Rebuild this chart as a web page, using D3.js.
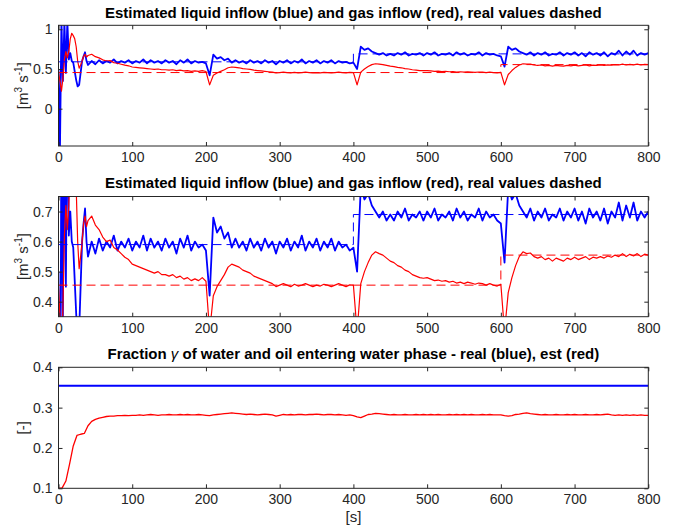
<!DOCTYPE html>
<html>
<head>
<meta charset="utf-8">
<script src="https://cdn.jsdelivr.net/npm/d3@7"></script>
<style>
  body { margin: 0; background: #fff; }
  text { font-family: "Liberation Sans", Arial, Helvetica, sans-serif; }
</style>
</head>
<body>
<div id="chart"></div>
<script>
// sample times of the estimates: dense at start-up, then every 5 s
var tEarly = d3.range(0, 41, 2);      // 21 samples
var tLate = d3.range(45, 801, 5);      // 152 samples
var tGamma = d3.range(0, 801, 5);      // 161 samples

var xTicks = [0, 100, 200, 300, 400, 500, 600, 700, 800];

// estimated liquid inflow (blue)
var liquidEarly = [0.50, -0.50, 1.10, 0.35, 1.10, 0.45, 1.10, 0.62, 0.70, 0.60, 0.58,
                   0.47, 0.36, 0.28, 0.30, 0.45, 0.60, 0.66, 0.71, 0.60, 0.55];
var liquidLate = [
  0.60, 0.56, 0.61, 0.57, 0.60, 0.58, 0.62, 0.57, 0.60, 0.58,
  0.61, 0.57, 0.60, 0.58, 0.62, 0.57, 0.61, 0.58, 0.60, 0.57,
  0.61, 0.58, 0.60, 0.56, 0.61, 0.58, 0.62, 0.57, 0.60, 0.58,
  0.59, 0.57, 0.42, 0.68, 0.63, 0.65, 0.61, 0.63, 0.58, 0.61,
  0.58, 0.60, 0.57, 0.61, 0.58, 0.60, 0.57, 0.61, 0.58, 0.60,
  0.56, 0.60, 0.58, 0.61, 0.57, 0.60, 0.58, 0.62, 0.57, 0.60,
  0.58, 0.61, 0.57, 0.60, 0.58, 0.61, 0.57, 0.60, 0.58, 0.59,
  0.57, 0.58, 0.50, 0.78, 0.74, 0.76, 0.72, 0.70, 0.68, 0.70,
  0.67, 0.69, 0.67, 0.70, 0.68, 0.71, 0.67, 0.69, 0.68, 0.70,
  0.67, 0.70, 0.68, 0.71, 0.67, 0.69, 0.68, 0.70, 0.67, 0.71,
  0.68, 0.70, 0.67, 0.69, 0.68, 0.71, 0.67, 0.70, 0.68, 0.69,
  0.67, 0.66, 0.53, 0.78, 0.74, 0.76, 0.72, 0.70, 0.68, 0.71,
  0.67, 0.70, 0.68, 0.71, 0.67, 0.69, 0.68, 0.71, 0.67, 0.70,
  0.68, 0.71, 0.67, 0.70, 0.66, 0.71, 0.68, 0.70, 0.67, 0.71,
  0.66, 0.70, 0.68, 0.73, 0.67, 0.72, 0.68, 0.73, 0.67, 0.70,
  0.68, 0.70
];

// estimated gas inflow (red)
var gasEarly = [0.45, 0.35, 0.22, 0.38, 0.62, 0.72, 0.64, 0.72, 0.88, 0.95, 0.92,
                0.88, 0.78, 0.60, 0.51, 0.55, 0.60, 0.66, 0.685, 0.65, 0.67];
var gasLate = [
  0.685, 0.655, 0.64, 0.615, 0.60, 0.605, 0.58, 0.572, 0.56, 0.548,
  0.54, 0.525, 0.52, 0.515, 0.51, 0.505, 0.50, 0.495, 0.50, 0.49,
  0.49, 0.485, 0.49, 0.48, 0.485, 0.475, 0.48, 0.47, 0.476, 0.47,
  0.48, 0.468, 0.30, 0.42, 0.45, 0.47, 0.49, 0.515, 0.525, 0.52,
  0.515, 0.505, 0.50, 0.495, 0.485, 0.48, 0.475, 0.47, 0.465, 0.46,
  0.45, 0.455, 0.46, 0.455, 0.45, 0.458, 0.452, 0.455, 0.46, 0.455,
  0.45, 0.455, 0.452, 0.458, 0.455, 0.45, 0.455, 0.46, 0.455, 0.45,
  0.456, 0.455, 0.30, 0.46, 0.50, 0.53, 0.555, 0.566, 0.56, 0.555,
  0.545, 0.535, 0.53, 0.52, 0.515, 0.505, 0.50, 0.49, 0.485, 0.48,
  0.478, 0.48, 0.475, 0.47, 0.472, 0.468, 0.47, 0.465, 0.468, 0.462,
  0.465, 0.46, 0.465, 0.462, 0.458, 0.462, 0.46, 0.455, 0.46, 0.455,
  0.452, 0.458, 0.30, 0.43, 0.48, 0.52, 0.55, 0.566, 0.56, 0.562,
  0.55, 0.545, 0.55, 0.54, 0.545, 0.535, 0.545, 0.54, 0.535, 0.545,
  0.54, 0.548, 0.54, 0.545, 0.55, 0.54, 0.548, 0.545, 0.55, 0.545,
  0.552, 0.548, 0.555, 0.55, 0.56, 0.55, 0.558, 0.552, 0.56, 0.55,
  0.558, 0.555
];

// real (dashed) values, piecewise constant
var realTimes = [0, 400, 600, 800];
var realLiquid = [0.59, 0.69, 0.69, 0.69];
var realGas = [0.455, 0.455, 0.555, 0.555];

// fraction gamma
var gammaReal = [0.354, 0.354];
var gammaRealTimes = [0, 800];
var gammaEst = [
  0.100, 0.101, 0.118, 0.160, 0.205, 0.231, 0.234, 0.236, 0.255, 0.266,
  0.271, 0.274, 0.276, 0.278, 0.279, 0.279, 0.280, 0.280, 0.281, 0.280,
  0.281, 0.281, 0.282, 0.281, 0.282, 0.283, 0.282, 0.281, 0.282, 0.282,
  0.283, 0.282, 0.282, 0.283, 0.282, 0.283, 0.282, 0.282, 0.283, 0.282,
  0.281, 0.280, 0.282, 0.283, 0.284, 0.285, 0.286, 0.287, 0.286, 0.285,
  0.284, 0.283, 0.284, 0.283, 0.282, 0.283, 0.284, 0.283, 0.282, 0.279,
  0.281, 0.283, 0.282, 0.283, 0.282, 0.283, 0.283, 0.282, 0.283, 0.283,
  0.284, 0.283, 0.282, 0.283, 0.283, 0.282, 0.283, 0.282, 0.281, 0.282,
  0.280, 0.277, 0.275, 0.279, 0.283, 0.284, 0.286, 0.285, 0.284, 0.283,
  0.282, 0.283, 0.282, 0.282, 0.283, 0.282, 0.282, 0.283, 0.282, 0.283,
  0.282, 0.283, 0.282, 0.283, 0.282, 0.282, 0.283, 0.282, 0.283, 0.282,
  0.283, 0.282, 0.283, 0.282, 0.282, 0.283, 0.282, 0.283, 0.282, 0.282,
  0.282, 0.280, 0.279, 0.280, 0.283, 0.284, 0.286, 0.287, 0.285, 0.284,
  0.283, 0.282, 0.283, 0.282, 0.282, 0.283, 0.282, 0.282, 0.283, 0.282,
  0.283, 0.282, 0.282, 0.283, 0.282, 0.282, 0.283, 0.282, 0.283, 0.284,
  0.282, 0.281, 0.282, 0.281, 0.282, 0.281, 0.282, 0.281, 0.282, 0.281,
  0.281
];

var tEst = tEarly.concat(tLate);
var liquidEst = liquidEarly.concat(liquidLate);
var gasEst = gasEarly.concat(gasLate);

var W = 673, H = 529;
var left = 58.5, right = 648.3;
var axisColor = "#262626";

var svg = d3.select("#chart").append("svg")
    .attr("width", W)
    .attr("height", H);

var x = d3.scaleLinear().domain([0, 800]).range([left, right]);

var flowSeries = [
  {t: tEst, v: liquidEst, color: "#0000ff", width: 1.8},
  {t: tEst, v: gasEst, color: "#ff0000", width: 1.2},
  {t: realTimes, v: realLiquid, color: "#0000ff", width: 1, dash: "9,5", step: true},
  {t: realTimes, v: realGas, color: "#ff0000", width: 1, dash: "9,5", step: true}
];

var flowTitle = "Estimated liquid inflow (blue) and gas inflow (red), real values dashed";

var panels = [
  {top: 25.3, bottom: 146, yDomain: [-0.47, 1.05], yTicks: [0, 0.5, 1],
   title: [flowTitle], titleY: 18, ylabel: "flow", series: flowSeries},
  {top: 196.5, bottom: 316.7, yDomain: [0.35, 0.75], yTicks: [0.4, 0.5, 0.6, 0.7],
   title: [flowTitle], titleY: 188, ylabel: "flow", series: flowSeries},
  {top: 367.3, bottom: 488.3, yDomain: [0.1, 0.4], yTicks: [0.1, 0.2, 0.3, 0.4],
   title: ["Fraction ", "\u03b3", " of water and oil entering water phase - real (blue), est (red)"],
   titleY: 358.5, ylabel: "frac",
   series: [
     {t: gammaRealTimes, v: gammaReal, color: "#0000ff", width: 2},
     {t: tGamma, v: gammaEst, color: "#ff0000", width: 1.3}
   ]}
];

function fmt(d) { return String(+d.toFixed(2)); }

panels.forEach(function(p, i) {
  var y = d3.scaleLinear().domain(p.yDomain).range([p.bottom, p.top]);
  var g = svg.append("g");

  g.append("clipPath").attr("id", "clip" + i)
    .append("rect")
    .attr("x", left).attr("y", p.top)
    .attr("width", right - left).attr("height", p.bottom - p.top);

  var plot = g.append("g").attr("clip-path", "url(#clip" + i + ")");
  p.series.forEach(function(s) {
    var line = d3.line()
        .x(function(d) { return x(d[0]); })
        .y(function(d) { return y(d[1]); });
    if (s.step) line.curve(d3.curveStepAfter);
    plot.append("path")
      .datum(d3.zip(s.t, s.v))
      .attr("fill", "none")
      .attr("stroke", s.color)
      .attr("stroke-width", s.width)
      .attr("stroke-linejoin", "round")
      .attr("stroke-dasharray", s.dash || null)
      .attr("d", line);
  });

  // axes, ticks pointing inward on all four sides
  g.append("g").attr("transform", "translate(0," + p.bottom + ")")
    .call(d3.axisBottom(x).tickValues(xTicks).tickSizeInner(-4).tickSizeOuter(0).tickPadding(6));
  g.append("g").attr("transform", "translate(0," + p.top + ")")
    .call(d3.axisTop(x).tickValues(xTicks).tickSizeInner(-4).tickSizeOuter(0).tickFormat(""));
  g.append("g").attr("transform", "translate(" + left + ",0)")
    .call(d3.axisLeft(y).tickValues(p.yTicks).tickSizeInner(-4).tickSizeOuter(0).tickPadding(6).tickFormat(fmt));
  g.append("g").attr("transform", "translate(" + right + ",0)")
    .call(d3.axisRight(y).tickValues(p.yTicks).tickSizeInner(-4).tickSizeOuter(0).tickFormat(""));

  g.selectAll(".domain").remove();
  g.selectAll(".tick line").attr("stroke", axisColor);
  g.selectAll(".tick text")
    .attr("fill", axisColor)
    .style("font-size", "14px")
    .style("font-family", "'Liberation Sans', Arial, sans-serif");

  g.append("rect")
    .attr("x", left).attr("y", p.top)
    .attr("width", right - left).attr("height", p.bottom - p.top)
    .attr("fill", "none")
    .attr("stroke", axisColor)
    .attr("stroke-width", 1);

  // title
  var t = g.append("text")
    .attr("x", (left + right) / 2)
    .attr("y", p.titleY)
    .attr("text-anchor", "middle")
    .style("font-size", "15px")
    .style("font-weight", "bold")
    .attr("fill", "#000");
  p.title.forEach(function(part) {
    var ts = t.append("tspan").text(part);
    if (part === "\u03b3") ts.style("font-weight", "normal").style("font-style", "italic");
  });

  // y label
  var cy = (p.top + p.bottom) / 2;
  var lab = g.append("text")
    .attr("transform", "translate(28," + cy + ") rotate(-90)")
    .attr("text-anchor", "middle")
    .attr("fill", axisColor)
    .style("font-size", "15px");
  if (p.ylabel === "flow") {
    lab.append("tspan").text("[m");
    lab.append("tspan").attr("dy", -6).style("font-size", "10px").text("3");
    lab.append("tspan").attr("dy", 6).text(" s");
    lab.append("tspan").attr("dy", -6).style("font-size", "10px").text("-1");
    lab.append("tspan").attr("dy", 6).text("]");
  } else {
    lab.text("[-]");
  }
});

// x label under the last panel
svg.append("text")
  .attr("x", (left + right) / 2)
  .attr("y", 522)
  .attr("text-anchor", "middle")
  .attr("fill", axisColor)
  .style("font-size", "15px")
  .text("[s]");
</script>
</body>
</html>
